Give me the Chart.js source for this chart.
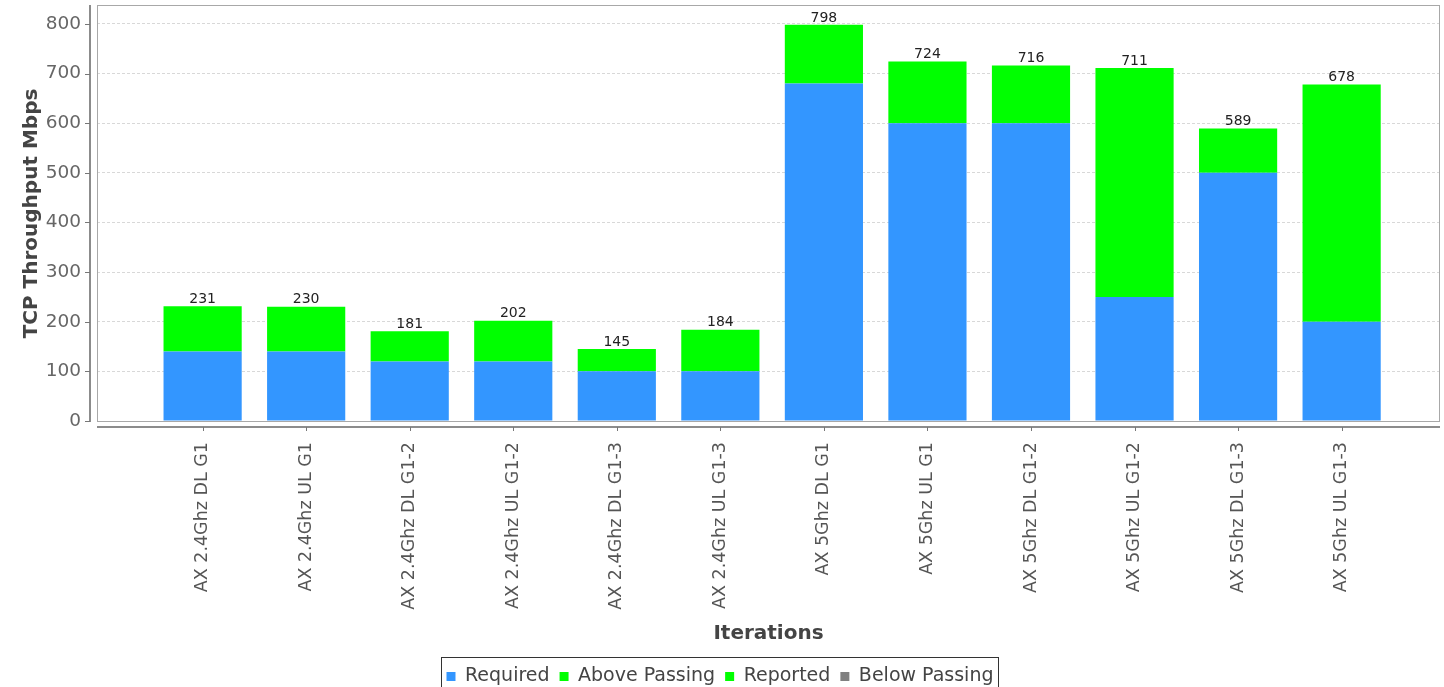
<!DOCTYPE html>
<html>
<head>
<meta charset="utf-8">
<script src="https://cdn.jsdelivr.net/npm/chart.js@4/dist/chart.umd.min.js"></script>
<style>
    html, body { margin: 0; padding: 0; background: #fff; }
    #wrap { width: 1444px; height: 687px; }
</style>
</head>
<body>
<div id="wrap"><canvas id="myChart" width="1444" height="687"></canvas></div>
<script>
const iterations = [
    'AX 2.4Ghz DL G1', 'AX 2.4Ghz UL G1', 'AX 2.4Ghz DL G1-2', 'AX 2.4Ghz UL G1-2',
    'AX 2.4Ghz DL G1-3', 'AX 2.4Ghz UL G1-3', 'AX 5Ghz DL G1', 'AX 5Ghz UL G1',
    'AX 5Ghz DL G1-2', 'AX 5Ghz UL G1-2', 'AX 5Ghz DL G1-3', 'AX 5Ghz UL G1-3'
];
const requiredData = [140, 140, 120, 120, 100, 100, 680, 600, 600, 250, 500, 200];
const aboveData = [91, 90, 61, 82, 45, 84, 118, 124, 116, 461, 89, 478];
const reportedData = [0, 0, 0, 0, 0, 0, 0, 0, 0, 0, 0, 0];
const belowData = [0, 0, 0, 0, 0, 0, 0, 0, 0, 0, 0, 0];
const totalData = [231, 230, 181, 202, 145, 184, 798, 724, 716, 711, 589, 678];
const yTicks = [0, 100, 200, 300, 400, 500, 600, 700, 800];

const FONT = 'DejaVu Sans';

function points(arr) {
    return arr.map((v, i) => ({ x: i, y: v }));
}

// plot frame, offset axis lines, tick marks and legend box
const framePlugin = {
    id: 'frame',
    beforeDatasetsDraw(chart) {
        const { ctx, chartArea } = chart;
        ctx.save();
        ctx.strokeStyle = '#a8a8a8';
        ctx.lineWidth = 1;
        ctx.strokeRect(chartArea.left + 0.5, chartArea.top - 0.5,
            chartArea.right - chartArea.left - 1, chartArea.bottom - chartArea.top + 1);
        ctx.restore();
    },
    afterDraw(chart) {
        const { ctx, chartArea, scales } = chart;
        ctx.save();
        ctx.strokeStyle = '#8c8c8c';
        ctx.lineWidth = 2;
        const ax = chartArea.left - 7;
        ctx.beginPath();
        ctx.moveTo(ax, chartArea.top - 1);
        ctx.lineTo(ax, chartArea.bottom + 1);
        ctx.stroke();
        const ay = chartArea.bottom + 6;
        ctx.beginPath();
        ctx.moveTo(chartArea.left, ay);
        ctx.lineTo(chartArea.right, ay);
        ctx.stroke();
        ctx.lineWidth = 1;
        ctx.strokeStyle = '#777';
        yTicks.forEach(v => {
            const y = Math.round(scales.y.getPixelForValue(v)) + 0.5;
            ctx.beginPath();
            ctx.moveTo(ax - 5, y);
            ctx.lineTo(ax, y);
            ctx.stroke();
        });
        iterations.forEach((c, i) => {
            const x = Math.round(scales.x.getPixelForValue(i)) + 0.5;
            ctx.beginPath();
            ctx.moveTo(x, ay);
            ctx.lineTo(x, ay + 4);
            ctx.stroke();
        });
        const boxes = chart.legend.legendHitBoxes;
        if (boxes && boxes.length) {
            const first = boxes[0], last = boxes[boxes.length - 1];
            ctx.strokeStyle = '#333';
            const l = Math.round(first.left - 5);
            const r = Math.round(last.left + last.width + 4);
            ctx.strokeRect(l + 0.5, Math.round(chart.legend.top) + 0.5, r - l, 40);
        }
        ctx.restore();
    }
};

// total label above each stack
const totalsPlugin = {
    id: 'totals',
    afterDatasetsDraw(chart) {
        const { ctx } = chart;
        const meta = chart.getDatasetMeta(1);
        ctx.save();
        ctx.font = '14px ' + FONT;
        ctx.fillStyle = '#222';
        ctx.textAlign = 'center';
        ctx.textBaseline = 'bottom';
        meta.data.forEach((bar, i) => {
            ctx.fillText(totalData[i], bar.x, bar.y);
        });
        ctx.restore();
    }
};

const ctx = document.getElementById('myChart').getContext('2d');
const myChart = new Chart(ctx, {
    type: 'bar',
    data: {
        datasets: [
            { label: 'Required', data: points(requiredData), backgroundColor: '#3396ff' },
            { label: 'Above Passing', data: points(aboveData), backgroundColor: '#00ff00' },
            { label: 'Reported', data: points(reportedData), backgroundColor: '#00ff00' },
            { label: 'Below Passing', data: points(belowData), backgroundColor: '#808080' }
        ]
    },
    options: {
        responsive: false,
        animation: false,
        layout: { padding: { top: 6, right: 4, left: 0, bottom: 0 } },
        datasets: {
            bar: { barPercentage: 1, categoryPercentage: 0.755, borderWidth: 0 }
        },
        plugins: {
            tooltip: { enabled: false },
            legend: {
                position: 'bottom',
                maxHeight: 30,
                labels: {
                    font: { family: FONT, size: 19 },
                    color: '#444',
                    boxWidth: 9,
                    boxHeight: 9,
                    padding: 10
                }
            }
        },
        scales: {
            x: {
                type: 'linear',
                stacked: true,
                offset: false,
                min: -1.02,
                max: 11.95,
                afterBuildTicks: (scale) => {
                    scale.ticks = iterations.map((c, i) => ({ value: i }));
                },
                afterFit: (scale) => { scale.height = 236; },
                ticks: {
                    minRotation: 90,
                    maxRotation: 90,
                    autoSkip: false,
                    padding: 13,
                    font: { family: FONT, size: 17.5 },
                    color: '#555',
                    callback: (v) => iterations[v]
                },
                grid: { display: false },
                border: { display: false },
                title: {
                    display: true,
                    text: 'Iterations',
                    font: { family: FONT, size: 20, weight: 'bold' },
                    color: '#444',
                    padding: { top: 0, bottom: 11 }
                }
            },
            y: {
                stacked: true,
                min: 0,
                max: 836,
                afterBuildTicks: (scale) => {
                    scale.ticks = yTicks.map(v => ({ value: v }));
                },
                afterFit: (scale) => { scale.width = 97; },
                ticks: {
                    padding: 0,
                    font: { family: FONT, size: 18.5, lineHeight: 0.6 },
                    color: '#666'
                },
                grid: {
                    color: '#d8d8d8',
                    drawTicks: true,
                    tickLength: 16,
                    tickColor: 'transparent'
                },
                border: { display: false, dash: [3, 2] },
                title: {
                    display: true,
                    text: 'TCP Throughput Mbps',
                    font: { family: FONT, size: 20, weight: 'bold' },
                    color: '#444',
                    padding: { top: 20, bottom: 0 }
                }
            }
        }
    },
    plugins: [framePlugin, totalsPlugin]
});
</script>
</body>
</html>
